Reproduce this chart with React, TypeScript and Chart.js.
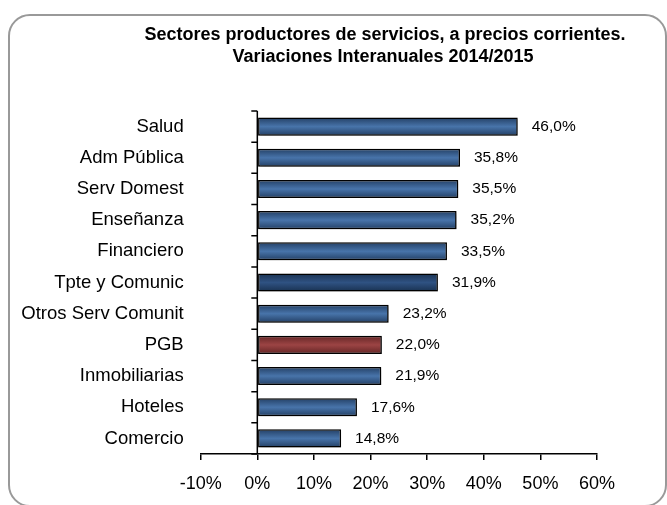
import React, { useEffect, useRef } from "react";
import { Chart, registerables } from "chart.js";

Chart.register(...registerables);

const categories = [
  "Salud",
  "Adm Pública",
  "Serv Domest",
  "Enseñanza",
  "Financiero",
  "Tpte y Comunic",
  "Otros Serv Comunit",
  "PGB",
  "Inmobiliarias",
  "Hoteles",
  "Comercio",
];
const values = [46.0, 35.8, 35.5, 35.2, 33.5, 31.9, 23.2, 22.0, 21.9, 17.6, 14.8];
const barKinds = ["blue", "blue", "blue", "blue", "blue", "dark", "blue", "red", "blue", "blue", "blue"];
const titleLines = [
  "Sectores productores de servicios, a precios corrientes.",
  "Variaciones Interanuales 2014/2015",
];
const xMin = -10;
const xMax = 60;
const xStep = 10;

const FONT = '"Liberation Sans", Arial, sans-serif';

const palettes: Record<string, [string, string, string]> = {
  blue: ["#1f3a5e", "#4874aa", "#1f3a5e"],
  dark: ["#172e4c", "#2f5282", "#172e4c"],
  red: ["#5e2222", "#9c4444", "#5e2222"],
};

const fmt = (v: number) => v.toFixed(1).replace(".", ",") + "%";

export default function App() {
  const canvasRef = useRef<HTMLCanvasElement | null>(null);

  useEffect(() => {
    document.body.style.margin = "0";
    const canvas = canvasRef.current;
    if (!canvas) return;

    const decorPlugin = {
      id: "decor",
      beforeDatasetsDraw(chart: any) {
        const c = chart.ctx;
        c.save();
        c.shadowColor = "rgba(0,0,0,0.35)";
        c.shadowBlur = 3;
        c.shadowOffsetX = 2;
        c.shadowOffsetY = 2;
      },
      afterDatasetsDraw(chart: any) {
        const c = chart.ctx;
        c.restore();
        const xs = chart.scales.x;
        const ys = chart.scales.y;
        const area = chart.chartArea;
        const x0 = xs.getPixelForValue(0);
        c.save();
        c.strokeStyle = "#000";
        c.lineWidth = 1.5;
        c.beginPath();
        c.moveTo(x0, area.top);
        c.lineTo(x0, area.bottom);
        for (let i = 0; i <= categories.length; i++) {
          const y = ys.getPixelForValue(i - 0.5);
          c.moveTo(x0 - 6, y);
          c.lineTo(x0, y);
        }
        c.stroke();
        // value labels
        const meta = chart.getDatasetMeta(0);
        c.fillStyle = "#000";
        c.font = "15.5px " + FONT;
        c.textAlign = "left";
        c.textBaseline = "middle";
        meta.data.forEach((bar: any, i: number) => {
          c.fillText(fmt(values[i]), bar.x + 14, bar.y);
        });
        c.restore();
      },
      afterDraw(chart: any) {
        const c = chart.ctx;
        c.save();
        c.fillStyle = "#000";
        c.font = "bold 18px " + FONT;
        c.textAlign = "center";
        c.textBaseline = "alphabetic";
        c.fillText(titleLines[0], 385, 40);
        c.fillText(titleLines[1], 383, 62);
        c.restore();
      },
    };

    const chart = new Chart(canvas, {
      type: "bar",
      data: {
        labels: categories,
        datasets: [
          {
            data: values,
            backgroundColor: (ctx: any) => {
              const chart = ctx.chart;
              const kind = barKinds[ctx.dataIndex] || "blue";
              const pal = palettes[kind];
              const ys = chart.scales && chart.scales.y;
              if (!ys || ctx.dataIndex === undefined) return pal[1];
              const yc = ys.getPixelForValue(ctx.dataIndex);
              if (!isFinite(yc)) return pal[1];
              const h = 10;
              const g = chart.ctx.createLinearGradient(0, yc - h, 0, yc + h);
              g.addColorStop(0, pal[0]);
              g.addColorStop(0.5, pal[1]);
              g.addColorStop(1, pal[2]);
              return g;
            },
            borderColor: "#000",
            borderWidth: 1.5,
            borderSkipped: false,
            categoryPercentage: 1,
            barPercentage: 0.58,
          },
        ],
      },
      options: {
        animation: false,
        responsive: false,
        indexAxis: "y",
        layout: { padding: { top: 111, right: 70, bottom: 0, left: 0 } },
        plugins: {
          legend: { display: false },
          tooltip: { enabled: false },
          title: { display: false },
        },
        scales: {
          x: {
            min: xMin,
            max: xMax,
            ticks: {
              stepSize: xStep,
              callback: (v: any) => v + "%",
              color: "#000",
              font: { family: FONT, size: 18 },
              padding: 13,
            },
            grid: {
              drawOnChartArea: false,
              drawTicks: true,
              tickLength: 6,
              color: "#000",
              lineWidth: 1.5,
            },
            border: { display: true, color: "#000", width: 1.5 },
            afterFit: (scale: any) => {
              scale.height = 51;
            },
          },
          y: {
            ticks: {
              color: "#000",
              font: { family: FONT, size: 18.5 },
              padding: 17,
            },
            grid: { display: false, drawTicks: false },
            border: { display: false },
            afterFit: (scale: any) => {
              scale.width = 200.7;
            },
          },
        },
      },
      plugins: [decorPlugin],
    } as any);

    return () => chart.destroy();
  }, []);

  return (
    <div style={{ position: "relative", width: 667, height: 505, background: "#fff", overflow: "hidden" }}>
      <div
        style={{
          position: "absolute",
          left: 8,
          top: 14,
          width: 659,
          height: 493,
          border: "2px solid #999",
          borderRadius: 22,
          boxSizing: "border-box",
        }}
      />
      <canvas ref={canvasRef} width={667} height={505} style={{ position: "absolute", left: 0, top: 0 }} />
    </div>
  );
}
